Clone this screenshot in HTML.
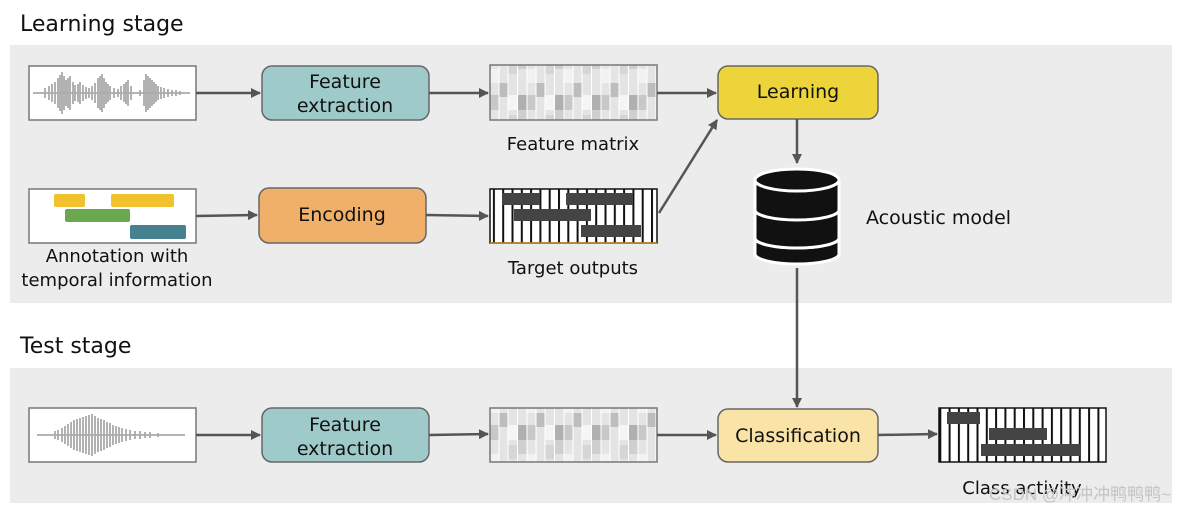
<!DOCTYPE html>
<html><head><meta charset="utf-8"><style>
body{margin:0;background:#fff;}
svg text{font-family:"DejaVu Sans","Liberation Sans",sans-serif;fill:#111;}
</style></head><body>
<svg width="1196" height="513" viewBox="0 0 1196 513" xmlns="http://www.w3.org/2000/svg">
<defs>
<marker id="ah" markerWidth="10" markerHeight="10" refX="9" refY="5" orient="auto" markerUnits="userSpaceOnUse"><path d="M0,0 L10,5 L0,10 z" fill="#555"/></marker>
<pattern id="str" width="9.3" height="60" patternUnits="userSpaceOnUse"><rect width="9.3" height="60" fill="#fff"/><rect width="2" height="60" fill="#111"/></pattern>
<pattern id="fm" width="37" height="55" patternUnits="userSpaceOnUse">
<rect width="37" height="55" fill="#e4e4e4"/>
<rect x="0" y="0" width="9" height="14" fill="#cfcfcf"/><rect x="9" y="14" width="9" height="14" fill="#f2f2f2"/>
<rect x="18" y="28" width="9" height="14" fill="#bdbdbd"/><rect x="27" y="5" width="9" height="14" fill="#d6d6d6"/>
<rect x="0" y="40" width="9" height="15" fill="#b0b0b0"/><rect x="27" y="40" width="9" height="15" fill="#f5f5f5"/>
<rect x="9" y="40" width="9" height="15" fill="#c8c8c8"/>
<rect x="8.5" y="0" width="1" height="55" fill="#fff"/><rect x="17.5" y="0" width="1" height="55" fill="#fff"/><rect x="26.5" y="0" width="1" height="55" fill="#fff"/><rect x="36" y="0" width="1" height="55" fill="#fff"/>
</pattern>
</defs>
<rect x="10" y="45" width="1162" height="258" fill="#ececec"/>
<rect x="10" y="368" width="1162" height="135" fill="#ececec"/>
<text x="20" y="31" font-size="22">Learning stage</text>
<text x="20" y="353" font-size="22">Test stage</text>

<!-- waveform 1 -->
<rect x="29" y="66" width="167" height="54" fill="#fff" stroke="#777" stroke-width="1.5"/>
<path d="M33,93 H190 M45,88 v10 M49,86 v14 M52,84 v18 M55,82 v22 M58,78 v30 M60,75 v36 M62,72 v42 M64,76 v34 M66,80 v26 M68,78 v30 M70,76 v34 M73,82 v22 M75,85 v16 M78,84 v18 M80,82 v22 M83,85 v16 M86,87 v12 M89,88 v10 M92,86 v14 M95,83 v20 M98,78 v30 M100,76 v34 M102,74 v38 M104,78 v30 M106,82 v22 M108,84 v18 M110,86 v14 M114,88 v10 M118,89 v8 M121,86 v14 M124,84 v18 M126,82 v22 M128,80 v26 M131,86 v14 M140,90 v6 M144,80 v26 M146,74 v38 M148,76 v34 M150,78 v30 M152,80 v26 M154,82 v22 M156,84 v18 M158,86 v14 M161,87 v12 M164,88 v10 M168,89 v8 M172,90 v6 M176,90 v6 M180,91 v4" stroke="#aaa" stroke-width="1.8"/>
<!-- annotation -->
<rect x="29" y="189" width="167" height="54" fill="#fff" stroke="#777" stroke-width="1.5"/>
<rect x="54" y="194" width="31" height="13" rx="2" fill="#f2c12e"/>
<rect x="111" y="194" width="63" height="13" rx="2" fill="#f2c12e"/>
<rect x="65" y="209" width="65" height="13" rx="2" fill="#6aa84f"/>
<rect x="130" y="225" width="56" height="14" rx="2" fill="#45818e"/>
<text x="117" y="262" font-size="18" text-anchor="middle">Annotation with</text>
<text x="117" y="286" font-size="18" text-anchor="middle">temporal information</text>

<rect x="262" y="66" width="167" height="54" rx="10" fill="#9ecbca" stroke="#666" stroke-width="1.5"/>
<text x="345" y="88" font-size="19" text-anchor="middle">Feature</text>
<text x="345" y="112" font-size="19" text-anchor="middle">extraction</text>
<rect x="259" y="188" width="167" height="55" rx="10" fill="#f0b06a" stroke="#666" stroke-width="1.5"/>
<text x="342" y="221" font-size="19" text-anchor="middle">Encoding</text>

<rect x="490" y="65" width="167" height="55" fill="url(#fm)" stroke="#777" stroke-width="1.5"/>
<text x="573" y="150" font-size="18" text-anchor="middle">Feature matrix</text>
<rect x="490" y="189" width="167" height="54" fill="url(#str)" stroke="#111" stroke-width="1.5"/>
<rect x="503" y="193" width="37" height="12" fill="#444"/><rect x="566" y="193" width="67" height="12" fill="#444"/>
<rect x="514" y="209" width="77" height="12" fill="#444"/><rect x="581" y="225" width="60" height="12" fill="#444"/>
<line x1="490" y1="243" x2="657" y2="243" stroke="#c68a2a" stroke-width="1.5"/>
<text x="573" y="274" font-size="18" text-anchor="middle">Target outputs</text>

<rect x="718" y="66" width="160" height="53" rx="10" fill="#ecd43a" stroke="#666" stroke-width="1.5"/>
<text x="798" y="98" font-size="19" text-anchor="middle">Learning</text>

<g fill="#111" stroke="#fff" stroke-width="3">
<path d="M755,238 v16 a42,10 0 0 0 84,0 v-16 z"/>
<ellipse cx="797" cy="238" rx="42" ry="10"/>
<path d="M755,210 v28 a42,10 0 0 0 84,0 v-28 z"/>
<path d="M755,182 v28 a42,10 0 0 0 84,0 v-28 z"/>
<ellipse cx="797" cy="180" rx="42" ry="11"/>
</g>
<text x="866" y="224" font-size="19">Acoustic model</text>

<rect x="29" y="408" width="167" height="54" fill="#fff" stroke="#777" stroke-width="1.5"/>
<path d="M37,435 H185 M55,431 v8 M58,430 v10 M62,428 v14 M65,426 v18 M68,424 v22 M71,422 v26 M74,420 v30 M77,419 v32 M80,418 v34 M83,417 v36 M86,416 v38 M89,415 v40 M92,414 v42 M95,416 v38 M98,418 v34 M101,419 v32 M104,420 v30 M107,422 v26 M110,423 v24 M113,425 v20 M116,426 v18 M119,427 v16 M122,428 v14 M126,429 v12 M130,430 v10 M135,431 v8 M140,431 v8 M145,432 v6 M150,432 v6 M158,433 v4" stroke="#aaa" stroke-width="1.8"/>
<rect x="262" y="408" width="167" height="54" rx="10" fill="#9ecbca" stroke="#666" stroke-width="1.5"/>
<text x="345" y="431" font-size="19" text-anchor="middle">Feature</text>
<text x="345" y="455" font-size="19" text-anchor="middle">extraction</text>
<rect x="490" y="408" width="167" height="54" fill="url(#fm)" stroke="#777" stroke-width="1.5"/>
<rect x="718" y="409" width="160" height="53" rx="10" fill="#fae3a6" stroke="#666" stroke-width="1.5"/>
<text x="798" y="442" font-size="19" text-anchor="middle">Classification</text>
<rect x="939" y="408" width="167" height="54" fill="url(#str)" stroke="#111" stroke-width="1.5"/>
<rect x="947" y="412" width="33" height="12" fill="#444"/><rect x="989" y="428" width="58" height="12" fill="#444"/><rect x="981" y="444" width="100" height="12" fill="#444"/>
<text x="1022" y="494" font-size="18" text-anchor="middle">Class activity</text>
<text x="1080" y="500" font-size="17" text-anchor="middle" style="fill:#c4c4c4;font-family:'Liberation Sans','Noto Sans CJK SC',sans-serif">CSDN @冲冲冲鸭鸭鸭~</text>

<g stroke="#555" stroke-width="2.5" marker-end="url(#ah)" fill="none">
<line x1="196" y1="93" x2="260" y2="93"/>
<line x1="429" y1="93" x2="488" y2="93"/>
<line x1="657" y1="93" x2="716" y2="93"/>
<line x1="196" y1="216" x2="257" y2="215"/>
<line x1="426" y1="215" x2="488" y2="216"/>
<line x1="659" y1="213" x2="717" y2="120"/>
<line x1="797" y1="119" x2="797" y2="163"/>
<line x1="797" y1="268" x2="797" y2="407"/>
<line x1="196" y1="435" x2="260" y2="435"/>
<line x1="429" y1="435" x2="488" y2="434"/>
<line x1="657" y1="435" x2="716" y2="435"/>
<line x1="878" y1="435" x2="937" y2="434"/>
</g>
</svg>
</body></html>
